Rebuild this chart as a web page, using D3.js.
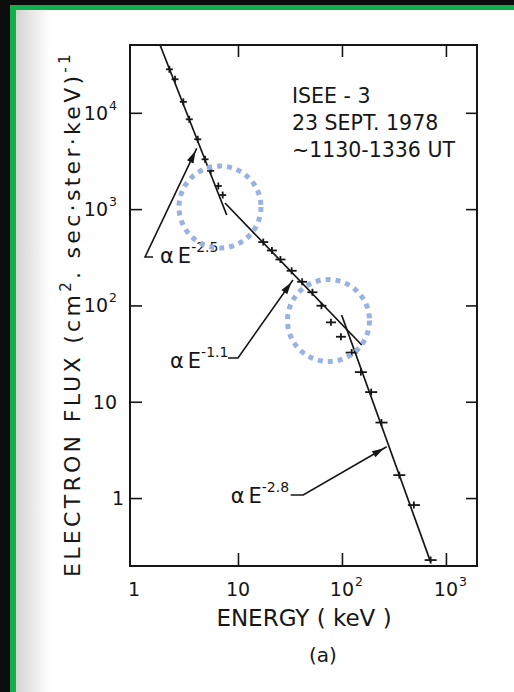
<!DOCTYPE html>
<html>
<head>
<meta charset="utf-8">
<script src="https://d3js.org/d3.v7.min.js"></script>
<style>
  body { margin: 0; background: #0c0c0c; }
  svg text { font-family: "DejaVu Sans", sans-serif; fill: #161616; }
</style>
</head>
<body>
<svg id="chart" width="514" height="692"></svg>
<script>
// ISEE-3 electron spectrum, 23 Sept 1978
var energy = [2.19, 2.48, 2.98, 3.40, 4.10, 4.82, 5.46, 6.47, 7.13,
              17.5, 21.2, 25.6, 32.8, 41.4, 52.0, 63.5,
              78.4, 97.8,
              124, 152, 191, 240, 356, 492, 713];
var flux = [28300, 22300, 13000, 8560, 5310, 3290, 2500, 1740, 1400,
            455, 372, 300, 229, 176, 137, 99.3,
            66.7, 47.3,
            32.4, 20.3, 12.6, 6.08, 1.73, 0.846, 0.227];

// power-law fits, drawn between start and end points
var fitStartE = [1.78, 7.50, 99.3];
var fitStartF = [50600, 1157, 79.5];
var fitEndE = [7.79, 155, 713];
var fitEndF = [869, 38.8, 0.216];

// annotations: exponent and where the arrow points
var annExp = ["-2.5", "-1.1", "-2.8"];
var annTipE = [4.01, 33.8, 269];
var annTipF = [4280, 184, 3.41];

// highlight circles
var ringE = [6.71, 74.2];
var ringF = [1051, 69.7];

var xTicks = [1, 10, 100, 1000];
var yTicks = [1, 10, 100, 1000, 10000];
var headerLines = ["ISEE - 3", "23 SEPT. 1978", "~1130-1336 UT"];

var svg = d3.select("#chart");

// page frame
var defs = svg.append("defs");
var grad = defs.append("linearGradient").attr("id", "shade");
grad.append("stop").attr("offset", "0").attr("stop-color", "#d4d4d4");
grad.append("stop").attr("offset", "1").attr("stop-color", "#ffffff");
svg.append("rect").attr("x", 10).attr("y", 5).attr("width", 520).attr("height", 700)
  .attr("fill", "#12b04c");
svg.append("rect").attr("x", 16).attr("y", 10).attr("width", 510).attr("height", 690)
  .attr("fill", "#fff");
svg.append("rect").attr("x", 16).attr("y", 10).attr("width", 34).attr("height", 690)
  .attr("fill", "url(#shade)");

var margin = {top: 45, right: 37, bottom: 126, left: 130};
var width = 514 - margin.left - margin.right;
var height = 692 - margin.top - margin.bottom;

var xScale = d3.scaleLog().domain([0.915, 1990])
  .range([margin.left, margin.left + width]);
var yScale = d3.scaleLog().domain([0.197, 50600])
  .range([margin.top + height, margin.top]);

// axes (inward ticks, no labels)
function axisG(axis, tx, ty) {
  var g = svg.append("g")
    .attr("transform", "translate(" + tx + "," + ty + ")")
    .call(axis);
  g.select(".domain").remove();
  g.selectAll(".tick line").attr("stroke", "#161616").attr("stroke-width", 1.6);
  return g;
}
axisG(d3.axisBottom(xScale).tickValues([10, 100, 1000]).tickSize(-13).tickFormat(""), 0, margin.top + height);
axisG(d3.axisTop(xScale).tickValues([10, 100, 1000]).tickSize(-12).tickFormat(""), 0, margin.top);
axisG(d3.axisLeft(yScale).tickValues(yTicks).tickSize(-12).tickFormat(""), margin.left, 0);
axisG(d3.axisRight(yScale).tickValues(yTicks).tickSize(-11).tickFormat(""), margin.left + width, 0);

svg.append("rect")
  .attr("x", margin.left).attr("y", margin.top)
  .attr("width", width).attr("height", height)
  .attr("fill", "none").attr("stroke", "#161616").attr("stroke-width", 2);

// tick labels with superscripts
function expOf(v) { return Math.round(Math.log10(v)); }

xTicks.forEach(function(v) {
  var e = expOf(v);
  var base = e === 0 ? "1" : "10";
  var t = svg.append("text")
    .attr("x", xScale(v)).attr("y", 596)
    .attr("text-anchor", "middle").attr("font-size", 19).text(base);
  if (e > 1) {
    svg.append("text")
      .attr("x", xScale(v) + t.node().getComputedTextLength() / 2 + 1)
      .attr("y", 586).attr("font-size", 12.5).text(e);
  }
});

yTicks.forEach(function(v) {
  var e = expOf(v);
  var base = e === 0 ? "1" : "10";
  var right = e > 1 ? 108 : (e === 1 ? 117 : 124);
  svg.append("text")
    .attr("x", right).attr("y", yScale(v) + 7)
    .attr("text-anchor", "end").attr("font-size", 19).text(base);
  if (e > 1) {
    svg.append("text")
      .attr("x", right + 1).attr("y", yScale(v) - 3)
      .attr("font-size", 12.5).text(e);
  }
});

// axis titles
svg.append("text")
  .attr("x", 304).attr("y", 626)
  .attr("text-anchor", "middle").attr("font-size", 23)
  .text("ENERGY ( keV )");
svg.append("text")
  .attr("x", 323).attr("y", 662)
  .attr("text-anchor", "middle").attr("font-size", 20)
  .text("(a)");

var yl = svg.append("text")
  .attr("transform", "translate(80,314) rotate(-90)")
  .attr("text-anchor", "middle").attr("font-size", 22)
  .attr("letter-spacing", 3.3);
yl.append("tspan").text("ELECTRON FLUX (cm");
yl.append("tspan").attr("font-size", 15).attr("dy", -9).text("2");
yl.append("tspan").attr("dy", 9).text(". sec\u00b7ster\u00b7keV)");
yl.append("tspan").attr("font-size", 15).attr("dy", -10).text("-1");

// header
svg.selectAll("text.hdr")
  .data(headerLines)
  .enter()
  .append("text")
    .attr("class", "hdr")
    .attr("x", 292)
    .attr("y", (d, i) => 103 + i * 27)
    .attr("font-size", 20.5)
    .text(d => d);

// fit lines
var ink = "#161616";
fitStartE.forEach(function(e0, i) {
  svg.append("line")
    .attr("x1", xScale(e0)).attr("y1", yScale(fitStartF[i]))
    .attr("x2", xScale(fitEndE[i])).attr("y2", yScale(fitEndF[i]))
    .attr("stroke", ink).attr("stroke-width", 1.7);
});

// data crosses
var pts = energy.map((e, i) => ({e: e, f: flux[i]}));
var cross = svg.selectAll("g.pt")
  .data(pts)
  .enter()
  .append("g")
    .attr("class", "pt")
    .attr("transform", d => "translate(" + xScale(d.e) + "," + yScale(d.f) + ")");
cross.append("line")
  .attr("x1", d => d.e < 10 ? -3.5 : d.e < 100 ? -5 : -6)
  .attr("x2", d => d.e < 10 ? 3.5 : d.e < 100 ? 5 : 6)
  .attr("stroke", ink).attr("stroke-width", 1.8);
cross.append("line")
  .attr("y1", -3.5).attr("y2", 3.5)
  .attr("stroke", ink).attr("stroke-width", 1.8);

// annotation leaders: corner offset, short stub, text position (px from tip)
var annLayout = [
  {cx: -51.7, cy: 108.7, stub: 8, tx: -36.7, ty: 114.7},
  {cx: -55, cy: 78, stub: -10, tx: -123, ty: 88},
  {cx: -83.4, cy: 48.3, stub: -12.6, tx: -156, ty: 56.3}
];
annExp.forEach(function(ex, i) {
  var L = annLayout[i];
  var tx = xScale(annTipE[i]), ty = yScale(annTipF[i]);
  var cx = tx + L.cx, cy = ty + L.cy;
  svg.append("polyline")
    .attr("points", [[cx + L.stub, cy], [cx, cy], [tx, ty]].map(p => p.join(",")).join(" "))
    .attr("fill", "none").attr("stroke", ink).attr("stroke-width", 1.6);
  var ang = Math.atan2(ty - cy, tx - cx) * 180 / Math.PI;
  svg.append("path")
    .attr("d", "M0,0 L-12,-3.6 L-12,3.6 Z")
    .attr("transform", "translate(" + tx + "," + ty + ") rotate(" + ang + ") translate(-3,0)")
    .attr("fill", ink);
  var t = svg.append("text")
    .attr("x", tx + L.tx).attr("y", ty + L.ty)
    .attr("font-size", 21);
  t.append("tspan").text("\u03b1");
  t.append("tspan").attr("dx", 4).text("E");
  t.append("tspan").attr("font-size", 14).attr("dy", -11).text(ex);
});

// dotted highlight rings
svg.selectAll("circle.ring")
  .data(ringE)
  .enter()
  .append("circle")
    .attr("class", "ring")
    .attr("cx", d => xScale(d))
    .attr("cy", (d, i) => yScale(ringF[i]))
    .attr("r", 41)
    .attr("fill", "none")
    .attr("stroke", "#98b3e2")
    .attr("stroke-width", 5)
    .attr("stroke-dasharray", "5,5");
</script>
</body>
</html>
